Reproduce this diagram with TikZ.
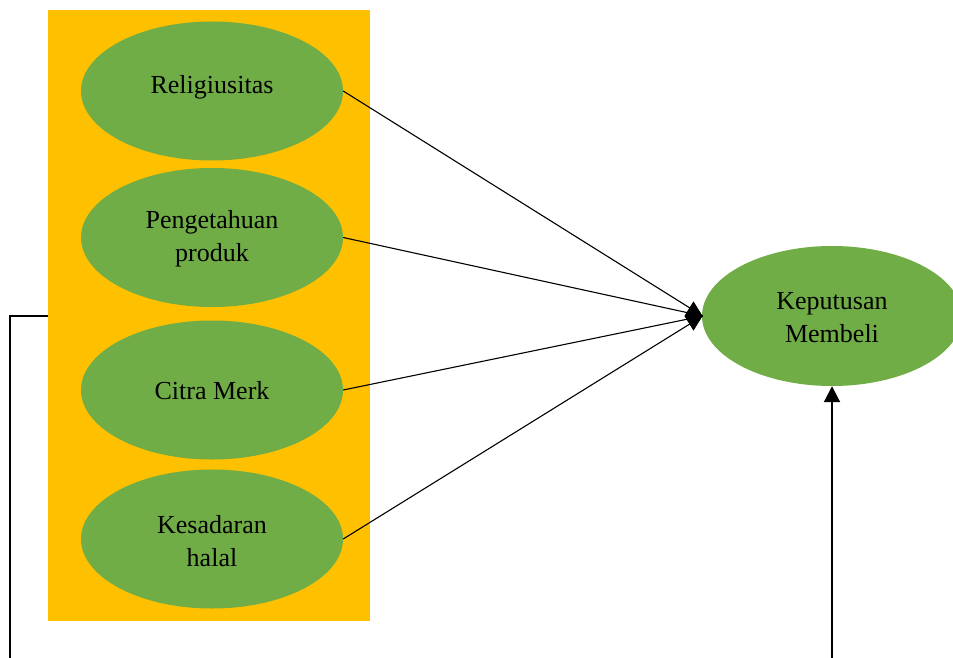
\documentclass[tikz,border=0pt]{standalone}
\usepackage{fontspec}
\setmainfont{Liberation Serif}
\usetikzlibrary{shapes.geometric,arrows.meta}
\definecolor{boxorange}{HTML}{FFC000}
\definecolor{ovalgreen}{HTML}{70AD47}
\begin{document}
\begin{tikzpicture}[x=1pt,y=-1pt,
  oval/.style={ellipse,fill=ovalgreen,minimum width=262pt,minimum height=139pt,inner sep=0pt},
  lbl/.style={align=center,font=\fontsize{26}{33}\selectfont,inner sep=0pt},
  thinline/.style={line width=1.1pt,black},
  thickline/.style={line width=2pt,black},
  hubshape/.style={diamond,fill=black,minimum width=18pt,minimum height=29pt,inner sep=0pt,aspect=0.6}]
\useasboundingbox (0,0) rectangle (953,658);
\clip (0,0) rectangle (953,658);
\node[fill=boxorange,minimum width=322pt,minimum height=611pt,inner sep=0pt] (box) at (209,315.5) {};
\node[oval] (e1) at (212,91) {};
\node[oval] (e2) at (212,237.5) {};
\node[oval] (e3) at (212,390) {};
\node[oval] (e4) at (212,539) {};
\node[oval,minimum width=260pt,minimum height=140pt] (kep) at (832,316) {};
\node[lbl] (t1) at (212,87) {Religiusitas};
\node[lbl] (t2) at (212,239) {Pengetahuan\\produk};
\node[lbl] (t3) at (212,391) {Citra Merk};
\node[lbl] (t4) at (212,541) {Kesadaran\\halal};
\node[lbl] (t5) at (832,318) {Keputusan\\Membeli};
\node[hubshape] (hub) at (693.5,316) {};
\draw[thinline] (e1.east) -- (hub.east);
\draw[thinline] (e2.east) -- (hub.east);
\draw[thinline] (e3.east) -- (hub.east);
\draw[thinline] (e4.east) -- (hub.east);
\node[hubshape] at (hub) {};
\coordinate (lb) at (10,660);
\coordinate (bt) at (832,660);
\draw[thickline] (box.west) -| (lb);
\draw[thickline,-{Triangle[length=16pt,width=16pt]}] (bt) -- (kep.south);
\end{tikzpicture}
\end{document}
